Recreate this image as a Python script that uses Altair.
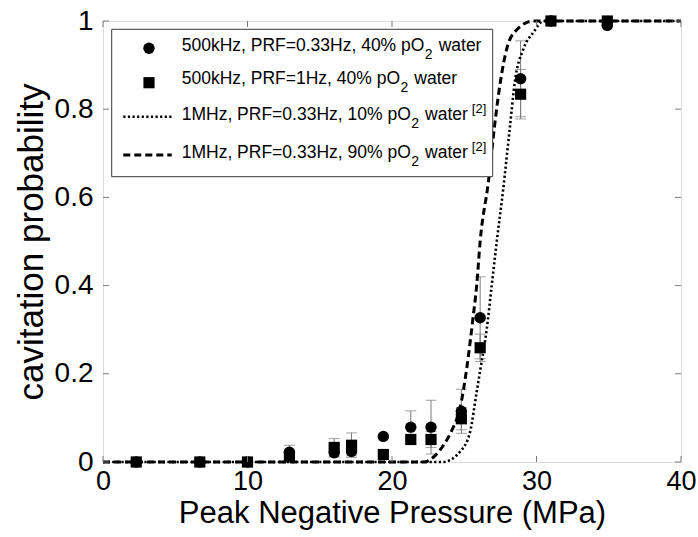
import altair as alt
import pandas as pd

# ---------------- data ----------------
pressure = [2.3, 6.7, 10.0, 12.9, 16.0, 17.2, 19.4, 21.3, 22.7, 24.8, 26.1, 28.9, 31.0, 34.9]
prob_prf033 = [0.0, 0.0, 0.0, 0.022, 0.021, 0.024, 0.058, 0.079, 0.079, 0.115, 0.327, 0.869, 1.0, 0.99]
err_prf033 = [0.0, 0.0, 0.0, 0.016, 0.01, 0.01, 0.0, 0.037, 0.061, 0.05, 0.093, 0.086, 0.0, 0.0]
prob_prf1 = [0.0, 0.0, 0.0, 0.012, 0.033, 0.038, 0.017, 0.051, 0.051, 0.098, 0.259, 0.834, 1.0, 1.0]
err_prf1 = [0.0, 0.0, 0.0, 0.008, 0.02, 0.028, 0.005, 0.01, 0.018, 0.025, 0.031, 0.056, 0.0, 0.0]

curve10_x = [0, 23.5, 24.7, 25.4, 25.86, 26.2, 26.55, 26.9, 27.25, 27.7, 28.17, 28.5, 29.1, 29.8, 30.5, 40]
curve10_p = [0, 0, 0.023, 0.068, 0.159, 0.227, 0.30, 0.40, 0.50, 0.62, 0.763, 0.862, 0.937, 0.975, 1.0, 1.0]
curve90_x = [0, 22.2, 23.0, 23.6, 24.2, 24.7, 25.17, 25.6, 25.86, 26.1, 26.67, 27.1, 27.5, 27.94, 28.6, 29.8, 40]
curve90_p = [0, 0, 0.015, 0.04, 0.076, 0.121, 0.212, 0.325, 0.40, 0.50, 0.635, 0.763, 0.862, 0.937, 0.979, 1.0, 1.0]

x_ticks = [0, 10, 20, 30, 40]
y_ticks = [0, 0.2, 0.4, 0.6, 0.8, 1.0]

legend_main = ["500kHz, PRF=0.33Hz, 40% pO", "500kHz, PRF=1Hz, 40% pO",
               "1MHz, PRF=0.33Hz, 10% pO", "1MHz, PRF=0.33Hz, 90% pO"]
legend_ref = ["", "", "[2]", "[2]"]

# ---------------- styling ----------------
FONT = "Liberation Sans"
GRAY = "#7a7a7a"
W, H = 578, 441

xs = alt.Scale(domain=[0, 40], nice=False, zero=False)
ys = alt.Scale(domain=[0, 1], nice=False, zero=False)
xaxis = alt.Axis(values=x_ticks, title="Peak Negative Pressure (MPa)", ticks=False, tickSize=0,
                 domain=False, grid=False, labelFontSize=27, labelFont=FONT, labelColor="black",
                 labelPadding=6, titleFont=FONT, titleFontSize=31, titleFontWeight="normal",
                 titleColor="black", titlePadding=4, labelFlush=False)
yaxis = alt.Axis(values=y_ticks, title="cavitation probability", format="~g", ticks=False, tickSize=0,
                 domain=False, grid=False, labelFontSize=28, labelFont=FONT, labelColor="black",
                 labelPadding=10, titleFont=FONT, titleFontSize=35, titleFontWeight="normal",
                 titleColor="black", titlePadding=5, labelFlush=False)


def X(f):
    return alt.X(f, type="quantitative", scale=xs, axis=xaxis)


def Y(f):
    return alt.Y(f, type="quantitative", scale=ys, axis=yaxis)


# ---------------- data tables ----------------
pts = pd.DataFrame({"x": pressure, "c": prob_prf033, "ce": err_prf033,
                    "s": prob_prf1, "se": err_prf1})

bars = []
caps = []
for x, v, e in list(zip(pressure, prob_prf033, err_prf033)) + list(zip(pressure, prob_prf1, err_prf1)):
    if e > 0:
        bars.append({"x": x, "lo": v - e, "hi": v + e})
        caps.append({"x": x, "y": v - e})
        caps.append({"x": x, "y": v + e})
bars = pd.DataFrame(bars)
caps = pd.DataFrame(caps)

c10 = pd.DataFrame({"x": curve10_x, "y": curve10_p})
c90 = pd.DataFrame({"x": curve90_x, "y": curve90_p})

# ---------------- layers ----------------
curve10 = alt.Chart(c10).mark_line(color="black", strokeWidth=2.6, strokeDash=[2.2, 2.4],
                                   interpolate="monotone").encode(x=X("x"), y=Y("y"))
curve90 = alt.Chart(c90).mark_line(color="black", strokeWidth=3, strokeDash=[7, 4],
                                   interpolate="monotone").encode(x=X("x"), y=Y("y"))

err_rules = alt.Chart(bars).mark_rule(color=GRAY, strokeWidth=1).encode(
    x=X("x"), y=Y("lo"), y2="hi")
err_caps = alt.Chart(caps).mark_tick(color=GRAY, orient="horizontal", size=11, thickness=1).encode(
    x=X("x"), y=Y("y"))

circles = alt.Chart(pts).mark_point(shape="circle", filled=True, size=130, color="black",
                                    opacity=1).encode(x=X("x"), y=Y("c"))
squares = alt.Chart(pts).mark_point(shape="square", filled=True, size=125, color="black",
                                    opacity=1).encode(x=X("x"), y=Y("s"))

xt = pd.DataFrame({"x": x_ticks})
yt = pd.DataFrame({"y": y_ticks})
tick_b = alt.Chart(xt).mark_rule(color=GRAY).encode(x=X("x"), y=alt.value(H), y2=alt.value(H - 6))
tick_t = alt.Chart(xt).mark_rule(color=GRAY).encode(x=X("x"), y=alt.value(0), y2=alt.value(6))
tick_l = alt.Chart(yt).mark_rule(color=GRAY).encode(y=Y("y"), x=alt.value(0), x2=alt.value(6))
tick_r = alt.Chart(yt).mark_rule(color=GRAY).encode(y=Y("y"), x=alt.value(W), x2=alt.value(W - 6))

# ---------------- legend (hand built for sub/superscripts) ----------------
one = pd.DataFrame({"d": [0]})
CW = {'k': 500, 'H': 722, 'z': 500, ',': 278, ' ': 278, 'P': 667, 'R': 722, 'F': 611, '=': 584,
      '.': 278, '%': 889, 'p': 556, 'O': 778, 'M': 833, 'w': 722, 'a': 556, 't': 278, 'e': 556,
      'r': 333, '[': 278, ']': 278}


def tw(s, fs):
    return sum(CW.get(ch, 556) for ch in s) * fs / 1000.0


legend_layers = [
    alt.Chart(one).mark_rect(fill="white", stroke="#3a3a3a", strokeWidth=1).encode(
        x=alt.value(8.7), x2=alt.value(389.7), y=alt.value(8.3), y2=alt.value(155.7))
]
sym_x = 46
row_base = [29.7, 63.0, 99.0, 136.7]
legend_layers.append(alt.Chart(one).mark_point(shape="circle", filled=True, size=130, color="black",
                                               opacity=1).encode(x=alt.value(sym_x), y=alt.value(27.3)))
legend_layers.append(alt.Chart(one).mark_point(shape="square", filled=True, size=125, color="black",
                                               opacity=1).encode(x=alt.value(sym_x), y=alt.value(61.7)))
legend_layers.append(alt.Chart(one).mark_rule(color="black", strokeWidth=2.6, strokeDash=[2.2, 2.4]).encode(
    x=alt.value(20.3), x2=alt.value(68.7), y=alt.value(95.7)))
legend_layers.append(alt.Chart(one).mark_rule(color="black", strokeWidth=3, strokeDash=[7, 4]).encode(
    x=alt.value(20.3), x2=alt.value(68.7), y=alt.value(134.0)))

x0 = 78.7
FS = 17.5
for main, ref, yb in zip(legend_main, legend_ref, row_base):
    frags = []
    frags.append((main, x0, yb, FS))
    sx = x0 + tw(main, FS) + 0.5
    frags.append(("2", sx, yb + 8, 14))
    wx = sx + tw("2", 14) + 6
    frags.append(("water", wx, yb, FS))
    if ref:
        frags.append((ref, wx + tw("water", FS) + 4, yb - 7, 13))
    for t, fx, fy, fs in frags:
        legend_layers.append(alt.Chart(one).mark_text(
            align="left", baseline="alphabetic", font=FONT, fontSize=fs, color="black").encode(
            x=alt.value(fx), y=alt.value(fy), text=alt.value(t)))

chart = alt.layer(
    err_rules, err_caps, curve10, curve90, circles, squares,
    tick_b, tick_t, tick_l, tick_r, *legend_layers
).properties(
    width=W, height=H,
    autosize=alt.AutoSizeParams(type="none"),
    padding={"left": 103, "top": 21, "right": 17, "bottom": 75},
).configure_view(stroke=GRAY, strokeWidth=1).configure(background="white")

chart.save("out.html", embed_options={"renderer": "svg", "actions": False})
